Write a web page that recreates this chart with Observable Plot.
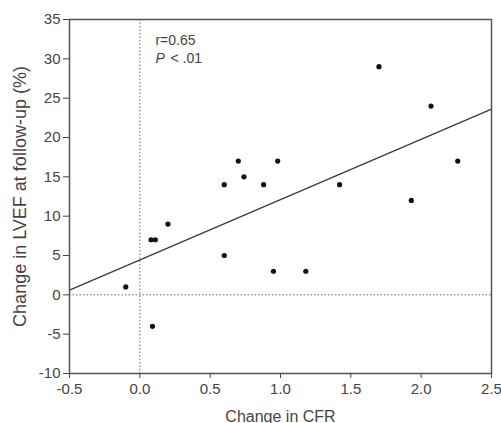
<!DOCTYPE html>
<html>
<head>
<meta charset="utf-8">
<script src="https://cdn.jsdelivr.net/npm/d3@7"></script>
<script src="https://cdn.jsdelivr.net/npm/@observablehq/plot@0.6"></script>
<style>
  html, body { margin: 0; padding: 0; background: #fff; }
  #chart svg { display: block; }
</style>
</head>
<body>
<div id="chart"></div>
<script>
// Data
const cfrChange  = [-0.10, 0.09, 0.08, 0.11, 0.20, 0.60, 0.60, 0.70, 0.74, 0.88, 0.98, 0.95, 1.18, 1.42, 1.70, 1.93, 2.07, 2.26];
const lvefChange = [1, -4, 7, 7, 9, 5, 14, 17, 15, 14, 17, 3, 3, 14, 29, 12, 24, 17];

// Regression line end points (as drawn)
const fitX = [-0.5, 2.5];
const fitY = [0.6, 23.6];

const xTicks = [-0.5, 0.0, 0.5, 1.0, 1.5, 2.0, 2.5];
const yTicks = [-10, -5, 0, 5, 10, 15, 20, 25, 30, 35];

const xLabel = "Change in CFR";
const yLabel = "Change in LVEF at follow-up (%)";

const annotX = [0.111];
const annotY = [31.7, 29.5];
const annotR = "r=0.65";
const annotP = "P";
const annotPRest = "< .01";

const points = cfrChange.map((x, i) => ({x, y: lvefChange[i]}));
const fit = fitX.map((x, i) => ({x, y: fitY[i]}));

const font = "Liberation Sans, Arial, Helvetica, sans-serif";
const ink = "#444";

const chart = Plot.plot({
  width: 501,
  height: 423,
  marginLeft: 69,
  marginRight: 10,
  marginTop: 19,
  marginBottom: 50,
  style: {fontFamily: font, fontSize: "15px", color: ink, background: "#fff"},
  x: {domain: [-0.5, 2.5]},
  y: {domain: [-10, 35]},
  marks: [
    Plot.ruleX([0], {stroke: "#666", strokeWidth: 1, strokeDasharray: "1.5,2"}),
    Plot.ruleY([0], {stroke: "#666", strokeWidth: 1, strokeDasharray: "1.5,2"}),
    Plot.line(fit, {x: "x", y: "y", stroke: "#3a3a3a", strokeWidth: 1.3}),
    Plot.dot(points, {x: "x", y: "y", r: 2.6, fill: "#111", stroke: "none"}),
    Plot.frame({stroke: "#555", strokeWidth: 1.5}),
    Plot.axisX({ticks: xTicks, tickFormat: d => d.toFixed(1), tickSize: 5, tickPadding: 5, label: null, fontSize: 15}),
    Plot.axisY({ticks: yTicks, tickFormat: d => String(d), tickSize: 6, tickPadding: 3, label: null, fontSize: 15}),
    Plot.text([xLabel], {text: d => d, frameAnchor: "bottom", dy: 48, textAnchor: "middle", lineAnchor: "bottom", fontSize: 16, fill: ink}),
    Plot.text([yLabel], {text: d => d, frameAnchor: "left", dx: -44, rotate: -90, textAnchor: "middle", lineAnchor: "bottom", fontSize: 18, fill: ink}),
    Plot.text([annotR], {text: d => d, x: () => annotX[0], y: () => annotY[0], textAnchor: "start", lineAnchor: "bottom", fontSize: 14, fill: ink}),
    Plot.text([annotP], {text: d => d, x: () => annotX[0], y: () => annotY[1], textAnchor: "start", lineAnchor: "bottom", fontSize: 14, fontStyle: "italic", fill: ink}),
    Plot.text([annotPRest], {text: d => d, x: () => annotX[0], y: () => annotY[1], dx: 15, textAnchor: "start", lineAnchor: "bottom", fontSize: 14, fill: ink})
  ]
});

document.getElementById("chart").appendChild(chart);
</script>
</body>
</html>
